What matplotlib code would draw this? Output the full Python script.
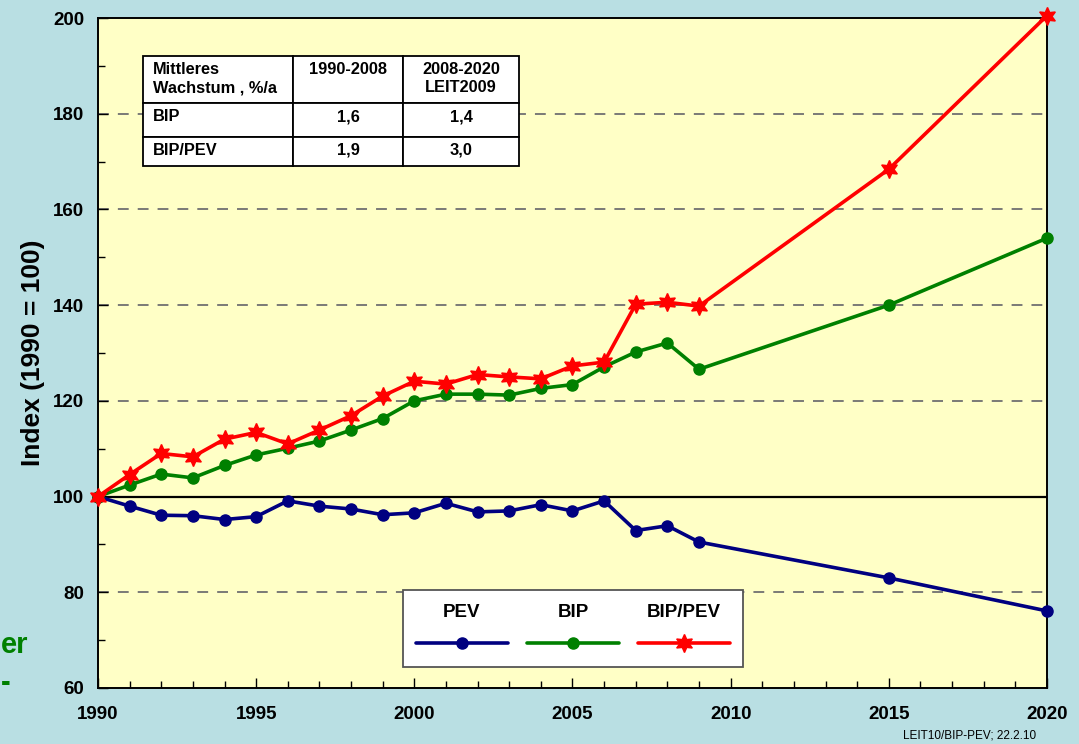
import matplotlib
matplotlib.use('Agg')
import matplotlib.pyplot as plt
from matplotlib.lines import Line2D
from matplotlib.patches import Rectangle
from matplotlib.ticker import MultipleLocator

plt.rcParams['font.family'] = ['Liberation Sans', 'DejaVu Sans']

# data
years = [1990, 1991, 1992, 1993, 1994, 1995, 1996, 1997, 1998, 1999, 2000,
         2001, 2002, 2003, 2004, 2005, 2006, 2007, 2008, 2009, 2015, 2020]
pev = [100, 98.0, 96.1, 96.0, 95.2, 95.8, 99.1, 98.0, 97.4, 96.2, 96.6,
       98.6, 96.8, 97.0, 98.3, 97.0, 99.1, 92.9, 93.9, 90.5, 83.0, 76.1]
bip = [100, 102.4, 104.7, 103.9, 106.5, 108.7, 110.1, 111.6, 113.9, 116.3, 120.0,
       121.4, 121.4, 121.2, 122.6, 123.4, 127.1, 130.2, 132.1, 126.6, 140.0, 154.0]
bip_pev = [100, 104.6, 109.0, 108.3, 112.0, 113.4, 111.0, 113.9, 116.9, 121.0, 124.1,
           123.5, 125.5, 125.0, 124.6, 127.3, 128.1, 140.2, 140.6, 139.8, 168.4, 200.5]

series_names = ['PEV', 'BIP', 'BIP/PEV']
series_colors = ['#000080', '#008000', '#ff0000']

table_rows = [['Mittleres\nWachstum , %/a', '1990-2008', '2008-2020\nLEIT2009'],
              ['BIP', '1,6', '1,4'],
              ['BIP/PEV', '1,9', '3,0']]


def ax_x(px):
    # pixel column -> axes fraction
    return (px - 98) / 949.0


def ax_y(py):
    # pixel row -> axes fraction
    return (688 - py) / 670.0


bg = '#b9dfe3'
fig = plt.figure(figsize=(10.79, 7.44), dpi=100, facecolor=bg)
ax = fig.add_axes([0.0908, 0.0753, 0.8795, 0.9005])
ax.set_facecolor('#ffffc6')

ax.set_xlim(1990, 2020)
ax.set_ylim(60, 200)

for y in range(80, 200, 20):
    if y == 100:
        continue
    ax.axhline(y, color='#707070', lw=1.3, ls=(0, (6, 5)), zorder=1)
ax.axhline(100, color='black', lw=1.6, zorder=2)

ax.plot(years, pev, color=series_colors[0], lw=2.6, marker='o', ms=8, zorder=4, clip_on=False)
ax.plot(years, bip, color=series_colors[1], lw=2.6, marker='o', ms=8, zorder=4, clip_on=False)
ax.plot(years, bip_pev, color=series_colors[2], lw=2.6, marker=(6, 1, 0), ms=13, zorder=5, clip_on=False)

ax.xaxis.set_major_locator(MultipleLocator(5))
ax.xaxis.set_minor_locator(MultipleLocator(1))
ax.yaxis.set_major_locator(MultipleLocator(20))
ax.yaxis.set_minor_locator(MultipleLocator(10))
ax.tick_params(which='major', direction='in', length=7, width=1, labelsize=13.5)
ax.tick_params(which='minor', direction='in', length=5, width=1)
ax.tick_params(axis='x', which='major', pad=13)
ax.tick_params(axis='y', which='major', pad=10)
for lab in ax.get_xticklabels() + ax.get_yticklabels():
    lab.set_fontweight('bold')
for sp in ax.spines.values():
    sp.set_linewidth(1.4)

ax.set_ylabel('Index (1990 = 100)', fontsize=19, fontweight='bold', labelpad=6)

# table, drawn by hand
col_edges = [143, 293, 403, 519]
row_edges = [56, 103, 137, 166]
for r, row in enumerate(table_rows):
    for c, txt in enumerate(row):
        x0, x1 = col_edges[c], col_edges[c + 1]
        y0, y1 = row_edges[r], row_edges[r + 1]
        ax.add_patch(Rectangle((ax_x(x0), ax_y(y1)), ax_x(x1) - ax_x(x0), ax_y(y0) - ax_y(y1),
                               transform=ax.transAxes, facecolor='white',
                               edgecolor='black', lw=1.3, zorder=6))
        if c == 0:
            tx, ha = ax_x(x0 + 10), 'left'
        else:
            tx, ha = ax_x((x0 + x1) / 2), 'center'
        ax.text(tx, ax_y(y0 + 6), txt, transform=ax.transAxes, ha=ha, va='top',
                fontsize=11.8, fontweight='bold', linespacing=1.25, zorder=7)

# legend drawn by hand: labels above line samples
lx0, lx1, ly0, ly1 = ax_x(403), ax_x(743), ax_y(667), ax_y(590)
ax.add_patch(Rectangle((lx0, ly0), lx1 - lx0, ly1 - ly0, transform=ax.transAxes,
                       facecolor='white', edgecolor='#555555', lw=1.3, zorder=6))
centers = [462, 573, 684]
markers = [('o', 8), ('o', 8), ((6, 1, 0), 13)]
for name, col, cx, (mk, msz) in zip(series_names, series_colors, centers, markers):
    ax.text(ax_x(cx), ax_y(613), name, transform=ax.transAxes, ha='center', va='center',
            fontsize=13.5, fontweight='bold', zorder=7)
    ax.add_line(Line2D([ax_x(cx - 46), ax_x(cx + 46)], [ax_y(643), ax_y(643)], transform=ax.transAxes,
                       color=col, lw=2.6, solid_capstyle='round', zorder=7))
    ax.add_line(Line2D([ax_x(cx)], [ax_y(643)], transform=ax.transAxes, color=col,
                       marker=mk, ms=msz, zorder=8))

# slide text peeking in on the left
fig.text(0.0005, 0.133, 'er', color='#008000', fontsize=21, fontweight='bold', ha='left', va='center')
fig.text(0.0005, 0.082, '-', color='#008000', fontsize=21, fontweight='bold', ha='left', va='center')

fig.text(0.899, 0.004, 'LEIT10/BIP-PEV; 22.2.10', fontsize=8.5, ha='center', va='bottom')

fig.savefig('out.png', dpi=100, facecolor=bg)
